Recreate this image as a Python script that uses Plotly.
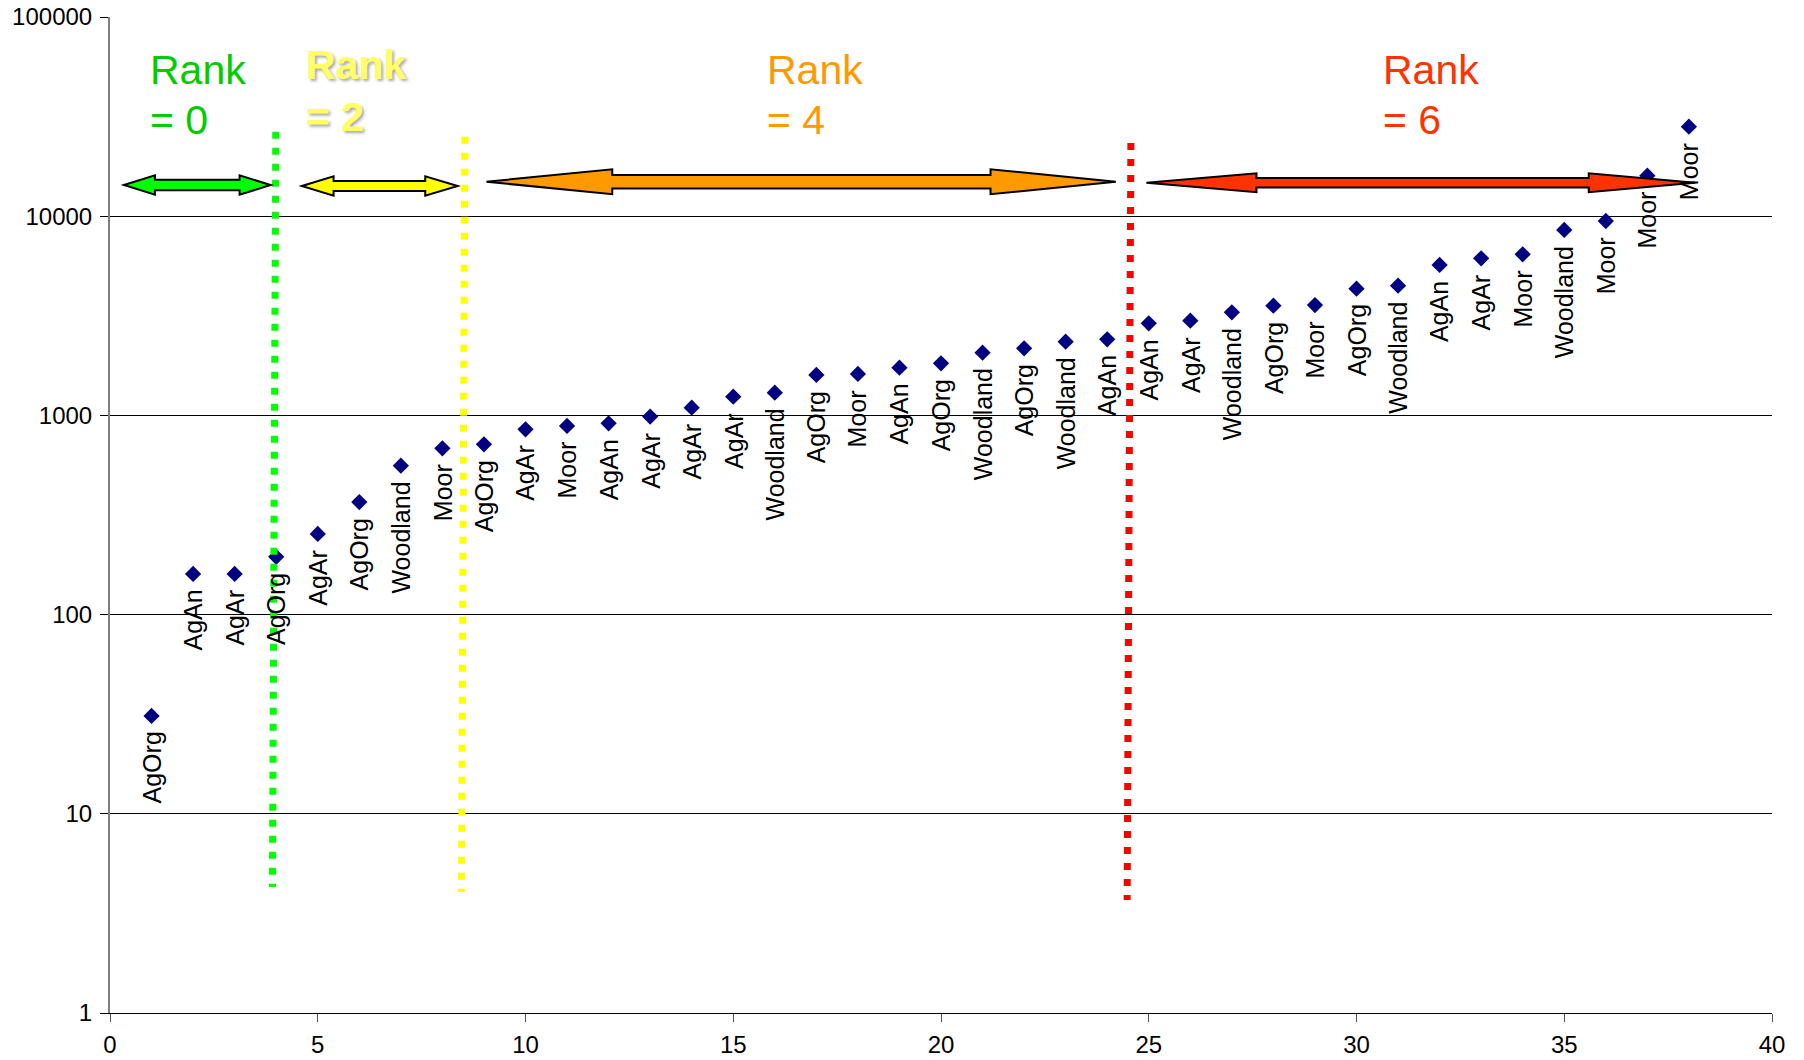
import numpy as np
import plotly.graph_objects as go

# Catchments ordered by value; each point labelled with its dominant land use
rank_order = list(range(1, 39))
land_use = [
    "AgOrg", "AgAn", "AgAr", "AgOrg", "AgAr", "AgOrg", "Woodland", "Moor",
    "AgOrg", "AgAr", "Moor", "AgAn", "AgAr", "AgAr", "AgAr", "Woodland",
    "AgOrg", "Moor", "AgAn", "AgOrg", "Woodland", "AgOrg", "Woodland", "AgAn",
    "AgAn", "AgAr", "Woodland", "AgOrg", "Moor", "AgOrg", "Woodland", "AgAn",
    "AgAr", "Moor", "Woodland", "Moor", "Moor", "Moor",
]
values = [
    31, 160, 160, 195, 254, 367, 559, 684, 716, 851, 885, 913, 986, 1093,
    1242, 1300, 1596, 1614, 1737, 1825, 2065, 2173, 2344, 2408, 2900, 2990,
    3291, 3554, 3582, 4326, 4479, 5690, 6147, 6440, 8527, 9460, 15970, 28130,
]

x_ticks = [0, 5, 10, 15, 20, 25, 30, 35, 40]
y_ticks = [1, 10, 100, 1000, 10000, 100000]
y_tick_text = ["1", "10", "100", "1000", "10000", "100000"]

rank_labels = ["Rank", "Rank", "Rank", "Rank"]
rank_values = ["= 0", "= 2", "= 4", "= 6"]

FONT = "Arial, Liberation Sans, sans-serif"
W, H = 1804, 1060
ML, MR, MT, MB = 110, 32, 17, 47
PLOT_H = H - MT - MB


def paper_y(log_val):
    return log_val / 5.0


def px_h(px):
    return px / PLOT_H


fig = go.Figure()

fig.add_trace(go.Scatter(
    x=rank_order, y=values, mode="markers",
    marker=dict(symbol="diamond", size=12.5, color="#000080", line=dict(width=0)),
    hoverinfo="x+y", showlegend=False,
))

annotations = []
for xi, v, name in zip(rank_order, values, land_use):
    annotations.append(dict(
        x=xi, y=np.log10(v), xref="x", yref="y", text=name, showarrow=False,
        textangle=-90, xanchor="center", yanchor="top", yshift=-14,
        font=dict(family=FONT, size=25, color="#000000"),
    ))

# Rank band headings
band_style = [
    dict(x=0.915, top=0.9464, low=0.8962, color="#00CC00", weight="normal", shadow="none"),
    dict(x=4.67, top=0.9514, low=0.8995, color="#FFFF66", weight="bold",
         shadow="2px 2px 3px rgba(0,0,0,0.35)"),
    dict(x=15.77, top=0.9464, low=0.8962, color="#FF9900", weight="normal", shadow="none"),
    dict(x=30.6, top=0.9464, low=0.8962, color="#FF3300", weight="normal", shadow="none"),
]
for lab, val, st in zip(rank_labels, rank_values, band_style):
    for txt, yy in ((lab, st["top"]), (val, st["low"])):
        annotations.append(dict(
            x=st["x"], y=yy, xref="x", yref="paper", text=txt, showarrow=False,
            xanchor="left", yanchor="middle",
            font=dict(family=FONT, size=41, color=st["color"],
                      weight=st["weight"], shadow=st["shadow"]),
        ))

shapes = []

# Dotted band boundaries
boundaries = [
    dict(x_top=3.99, x_bot=3.91, top=4.424, bot=0.633, color="#00FF00"),
    dict(x_top=8.54, x_bot=8.46, top=4.399, bot=0.607, color="#FFFF00"),
    dict(x_top=24.57, x_bot=24.48, top=4.367, bot=0.567, color="#FF0000"),
]
for b in boundaries:
    shapes.append(dict(
        type="line", xref="x", yref="paper",
        x0=b["x_top"], y0=paper_y(b["top"]), x1=b["x_bot"], y1=paper_y(b["bot"]),
        line=dict(color=b["color"], width=7, dash="7px,9px"), layer="above",
    ))


def double_arrow(x0, x1, yc, head_l, head_r, head_half, shaft_half):
    hh = px_h(head_half)
    sh = px_h(shaft_half)
    pts = [
        (x0, yc), (x0 + head_l, yc + hh), (x0 + head_l, yc + sh),
        (x1 - head_r, yc + sh), (x1 - head_r, yc + hh), (x1, yc),
        (x1 - head_r, yc - hh), (x1 - head_r, yc - sh), (x0 + head_l, yc - sh),
        (x0 + head_l, yc - hh),
    ]
    return "M " + " L ".join(f"{px:.4f},{py:.5f}" for px, py in pts) + " Z"


arrows = [
    dict(x0=0.335, x1=3.865, yc=0.8313, hl=0.746, hr=0.746, hh=9.7, sh=5.3, color="#00FF00"),
    dict(x0=4.618, x1=8.367, yc=0.8303, hl=0.763, hr=0.78, hh=9.7, sh=5.0, color="#FFFF00"),
    dict(x0=9.061, x1=24.207, yc=0.8346, hl=3.027, hr=3.015, hh=12.5, sh=6.7, color="#FF9900"),
    dict(x0=24.943, x1=38.15, yc=0.8336, hl=2.65, hr=2.56, hh=9.5, sh=4.7, color="#FF3300"),
]
for a in arrows:
    shapes.append(dict(
        type="path", xref="x", yref="paper",
        path=double_arrow(a["x0"], a["x1"], a["yc"], a["hl"], a["hr"], a["hh"], a["sh"]),
        fillcolor=a["color"], line=dict(color="#000000", width=2), layer="above",
    ))

fig.update_layout(
    template="none",
    width=W, height=H,
    margin=dict(l=ML, r=MR, t=MT, b=MB, pad=0, autoexpand=False),
    paper_bgcolor="white", plot_bgcolor="white",
    showlegend=False,
    annotations=annotations,
    shapes=shapes,
    font=dict(family=FONT, size=24, color="#000000"),
)
fig.update_xaxes(
    range=[0, 40], tickmode="array", tickvals=x_ticks, automargin=False,
    ticklabelstandoff=2,
    ticks="outside", ticklen=8, tickcolor="#555555", tickwidth=1,
    showgrid=False, zeroline=False,
    showline=True, linecolor="#000000", linewidth=1,
    tickfont=dict(family=FONT, size=24, color="#000000"),
)
fig.update_yaxes(
    type="log", range=[0, 5], tickmode="array", tickvals=y_ticks, ticktext=y_tick_text,
    automargin=False, ticklabelstandoff=3,
    ticks="outside", ticklen=8, tickcolor="#000000", tickwidth=1,
    showgrid=True, gridcolor="#000000", gridwidth=1, zeroline=False,
    showline=True, linecolor="#808080", linewidth=2,
    tickfont=dict(family=FONT, size=24, color="#000000"),
)

fig.write_html("out.html")
